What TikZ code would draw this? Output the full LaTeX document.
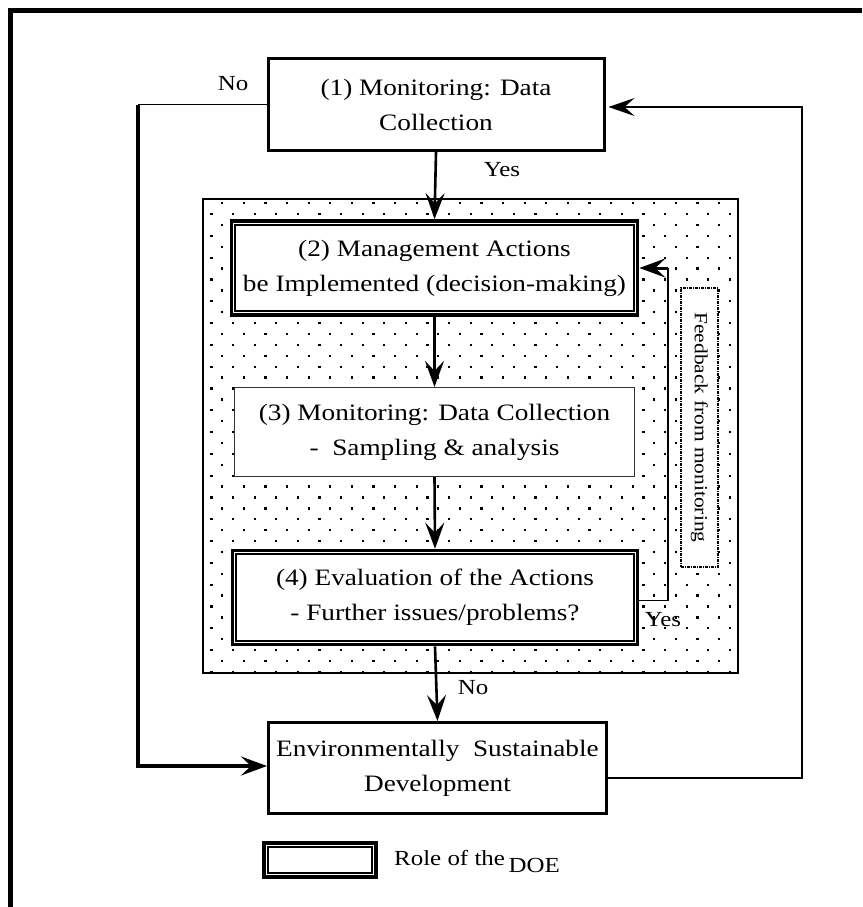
\documentclass[tikz,border=0pt]{standalone}
\usepackage{fontspec}
\setmainfont{Liberation Serif}[FakeStretch=1.16]
\usetikzlibrary{arrows.meta}

% inner line of the double (DOE) boxes
\newcommand{\doeinner}[1]{\draw[line width=2.2pt] ([shift={(5.6pt,-5.6pt)}]#1.north west) rectangle ([shift={(-5.6pt,5.6pt)}]#1.south east);}

\begin{document}
\begin{tikzpicture}[x=1pt,y=-1pt,
    every node/.style={inner sep=0pt},
    boxfont/.style={font=\fontsize{23.5}{35}\selectfont},
    labelfont/.style={font=\fontsize{21.5}{25}\selectfont},
    plainbox/.style={draw,line width=3pt,fill=white,align=center,boxfont},
    doebox/.style={draw,line width=3.6pt,fill=white,align=center,boxfont},
    samplebox/.style={draw=black!80,line width=1.2pt,fill=white,align=center,boxfont},
    flow/.style={line width=2.6pt,-{Stealth[length=26pt,width=19pt,inset=10pt]}},
    flowthin/.style={line width=1.8pt,-{Stealth[length=26pt,width=18pt,inset=10pt]}}]
  \useasboundingbox (0,0) rectangle (862,907);

  % page frame (only top and left show)
  \draw[line width=5.5pt] (10.5,907) -- (10.5,10.5) -- (862,10.5);

  % dotted zone round steps 2-4
  \begin{scope}
    \clip (203,199) rectangle (738,673);
    \foreach \r in {0,...,43}
      \foreach \c in {0,...,25}
        \fill ({199.5+21.6*\c+10.8*mod(\r,2)},{202+10.9*\r}) rectangle +(2.3,2.3);
  \end{scope}
  \node (dotzone) [draw,line width=1.5pt,minimum width=535pt,minimum height=474pt] at (470.5,436) {};

  \coordinate (leftrail) at (138,0);
  \coordinate (rightrail) at (802,0);
  \coordinate (fbrail) at (668,0);

  \node (b1) [plainbox,minimum width=336pt,minimum height=92pt] at (436,104.5) {(1) Monitoring: Data\\Collection};
  \node (b2) [doebox,minimum width=406pt,minimum height=94pt] at (434.5,268) {(2) Management Actions\\be Implemented (decision-making)};
  \node (b3) [samplebox,minimum width=400pt,minimum height=89pt] at (434.5,432) {(3) Monitoring: Data Collection\\-\ \ Sampling \& analysis};
  \node (b4) [doebox,minimum width=405pt,minimum height=94pt] at (435,597.5) {(4) Evaluation of the Actions\\- Further issues/problems?};
  \node (b5) [plainbox,minimum width=338pt,minimum height=91pt] at (437.5,768) {Environmentally\ \ Sustainable\\Development};
  \doeinner{b2}
  \doeinner{b4}

  \node (fbbox) [draw,dash pattern=on 3pt off 1pt on 1pt off 1pt,line width=2.4pt,fill=white,minimum width=37pt,minimum height=279pt] at (699.5,427.5) {};
  \node (fbtext) [rotate=-90,font=\fontsize{18.5}{22}\selectfont] at (fbbox.center) {Feedback from monitoring};

  \node (legbox) [doebox,minimum width=112pt,minimum height=34pt] at (320,860) {};
  \doeinner{legbox}
  \node (legtext) [anchor=west,labelfont] at (394,862) {Role of the\,\raisebox{-7pt}{DOE}};

  % flow down the middle
  \draw[flow] (b1.south) -- (b2.north);
  \draw[flow] (b2.south) -- (b3.north);
  \draw[flow] (b3.south) -- (b4.north);
  \draw[flow] (b4.south) -- (b5.north);

  % no-branch on the left, loop back on the right
  \draw[line width=1.8pt] (b1.west) -- (b1.west -| leftrail);
  \draw[flow,line width=3.4pt] (b1.west -| leftrail) |- ([yshift=2pt]b5.west);
  \draw[flowthin] ([yshift=-10pt]b5.east) -| ([yshift=-2.5pt]rightrail |- b1.east) -- ([yshift=-2.5pt,xshift=3pt]b1.east);

  % feedback from step 4 to step 2
  \draw[line width=1.3pt] ([yshift=-3pt]b4.east) -| (fbrail |- b2.east);
  \draw[flow,line width=3pt] (fbrail |- b2.east) -- (b2.east);

  \node (no1) [labelfont] at (233,84) {No};
  \node (yes1) [labelfont] at (502,170) {Yes};
  \node (yes2) [labelfont] at (663,620) {Yes};
  \node (no2) [labelfont] at (473,688) {No};
\end{tikzpicture}
\end{document}
